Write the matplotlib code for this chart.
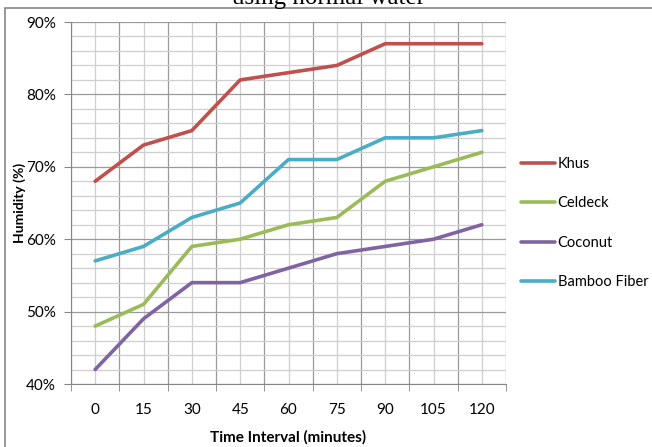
import numpy as np
import matplotlib
matplotlib.use('Agg')
import matplotlib.pyplot as plt
from matplotlib.patches import Rectangle

# Data
time_labels = ['0', '15', '30', '45', '60', '75', '90', '105', '120']
khus = [68, 73, 75, 82, 83, 84, 87, 87, 87]
celdeck = [48, 51, 59, 60, 62, 63, 68, 70, 72]
coconut = [42, 49, 54, 54, 56, 58, 59, 60, 62]
bamboo = [57, 59, 63, 65, 71, 71, 74, 74, 75]
y_ticks = [40, 50, 60, 70, 80, 90]
y_tick_labels = ['40%', '50%', '60%', '70%', '80%', '90%']

plt.rcParams['font.family'] = ['Lato', 'DejaVu Sans']

fig = plt.figure(figsize=(6.52, 4.47), dpi=100)
ax = fig.add_axes([71 / 652, 1 - 384 / 447, 435 / 652, 362 / 447])

x = np.arange(len(time_labels))
ax.plot(x, khus, color='#C0504D', lw=2.6, label='Khus', solid_capstyle='round')
ax.plot(x, celdeck, color='#9BBB59', lw=2.6, label='Celdeck', solid_capstyle='round')
ax.plot(x, coconut, color='#8064A2', lw=2.6, label='Coconut', solid_capstyle='round')
ax.plot(x, bamboo, color='#4BACC6', lw=2.6, label='Bamboo Fiber', solid_capstyle='round')

ax.set_xlim(-0.5, len(time_labels) - 0.5)
ax.set_ylim(40, 90)

# x: labels at category centres, tick marks and dark grid at boundaries
ax.set_xticks(x)
ax.set_xticklabels(time_labels)
ax.set_xticks(np.arange(len(time_labels) + 1) - 0.5, minor=True)
ax.tick_params(axis='x', which='major', length=0, pad=14, labelsize=11, colors='#000000')
ax.tick_params(axis='x', which='minor', length=5, direction='out', color='#868686')

# y: majors every 10, light minor grid every 2
ax.set_yticks(y_ticks)
ax.set_yticklabels(y_tick_labels)
ax.set_yticks(np.arange(40, 91, 2), minor=True)
ax.tick_params(axis='y', which='major', length=5, direction='out', color='#868686', labelsize=11, pad=6)
ax.tick_params(axis='y', which='minor', length=0)

ax.grid(True, axis='x', which='minor', color='#9A9A9A', lw=0.9)
ax.grid(True, axis='x', which='major', color='#CFCFCF', lw=0.9)
ax.grid(True, axis='y', which='major', color='#9A9A9A', lw=0.9)
ax.grid(True, axis='y', which='minor', color='#CFCFCF', lw=0.9)
ax.set_axisbelow(True)

for side in ['top', 'right']:
    ax.spines[side].set_visible(False)
for side in ['left', 'bottom']:
    ax.spines[side].set_color('#868686')

ax.set_xlabel('Time Interval (minutes)', fontsize=11, fontweight='bold', labelpad=9)
ax.set_ylabel('Humidity (%)', fontsize=10, fontweight='bold')
ax.yaxis.set_label_coords(-0.104, 0.5)

fig.legend(loc='center left', bbox_to_anchor=(508 / 652, 1 - 223 / 447), frameon=False,
           fontsize=10.5, handlelength=2.3, handletextpad=0.2, labelspacing=1.75)

# outer chart border (runs off the right and bottom of the image)
fig.patches.append(Rectangle((5 / 652, -0.1), 1.2, 1 - 8 / 447 + 0.1, transform=fig.transFigure,
                             fill=False, edgecolor='#868686', lw=1.2))

# title cut off at the top of the picture, as in the source
fig.text(329 / 652, 1 - 4 / 447, 'using normal water', ha='center', va='baseline',
         fontsize=18, family='Liberation Serif')

fig.savefig('out.png', dpi=100)
